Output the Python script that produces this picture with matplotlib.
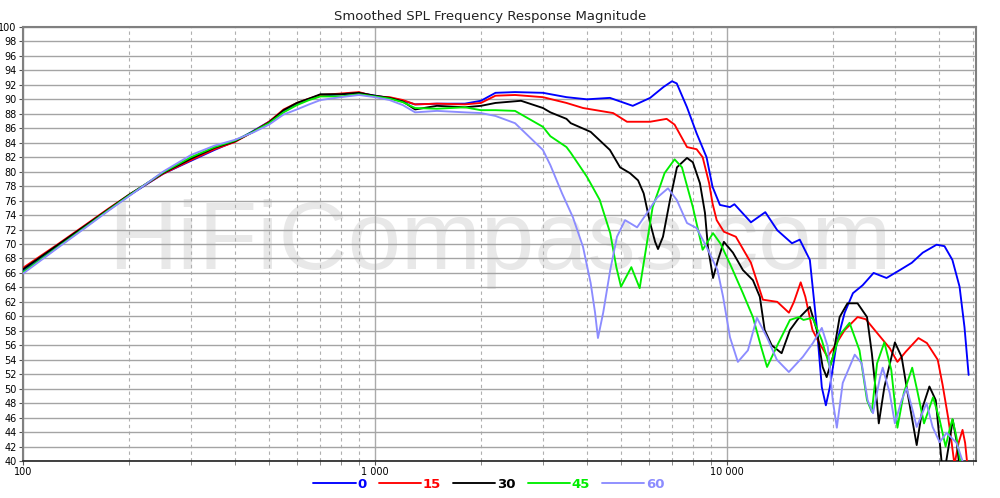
import numpy as np
import matplotlib.pyplot as plt
import matplotlib.ticker as mticker

# frequency points (Hz) shared by all angles below 2 kHz
f_low = [100, 125, 150, 175, 200, 250, 300, 350, 400, 450, 500, 550, 600, 650,
         700, 800, 900, 1000, 1100, 1200, 1300, 1500, 1800]

spl0_low = [66.3, 69.6, 72.4, 74.7, 76.7, 79.7, 81.5, 83.0, 84.2, 85.6, 86.9, 88.4, 89.4, 90.0,
            90.5, 90.7, 90.9, 90.5, 90.2, 89.8, 89.3, 89.4, 89.4]
spl15_low = [66.7, 69.9, 72.6, 74.9, 76.8, 79.7, 81.6, 83.1, 84.1, 85.5, 86.9, 88.6, 89.5, 90.1,
             90.6, 90.8, 91.0, 90.4, 90.3, 89.9, 89.3, 89.4, 89.3]
spl30_low = [66.5, 69.8, 72.5, 74.8, 76.8, 79.8, 81.8, 83.3, 84.2, 85.5, 86.8, 88.5, 89.5, 90.1,
             90.7, 90.7, 90.9, 90.5, 90.2, 89.7, 88.6, 89.1, 88.9]
spl45_low = [66.1, 69.5, 72.3, 74.7, 76.7, 79.9, 82.0, 83.4, 84.3, 85.5, 86.7, 88.2, 89.2, 89.9,
             90.4, 90.4, 90.7, 90.4, 90.1, 89.6, 88.8, 88.7, 88.9]
spl60_low = [65.9, 69.4, 72.2, 74.6, 76.6, 80.0, 82.3, 83.6, 84.4, 85.4, 86.5, 87.9, 88.6, 89.3,
             89.9, 90.3, 90.6, 90.3, 89.9, 89.2, 88.2, 88.4, 88.2]

# 0 deg, above 2 kHz
f0_high = [2000, 2200, 2500, 3000, 3500, 4000, 4650, 5400, 6050, 6600, 6980, 7200, 7700, 8200,
           8750, 9100, 9550, 10200, 10500, 11700, 12850, 13900, 15300, 16100, 17200, 18000,
           18600, 19100, 19600, 20500, 21600, 22800, 24300, 26100, 28400, 31000, 33500, 36000,
           39400, 41500, 43700, 45800, 47300, 48600]
spl0_high = [89.8, 90.9, 91.0, 90.9, 90.3, 90.0, 90.2, 89.1, 90.2, 91.7, 92.5, 92.2, 88.9, 85.3,
             82.0, 77.9, 75.4, 75.1, 75.5, 73.0, 74.4, 71.9, 70.1, 70.6, 67.8, 58.5,
             50.2, 47.7, 50.2, 56.3, 60.5, 63.2, 64.3, 66.0, 65.3, 66.4, 67.4, 68.8,
             69.9, 69.7, 67.8, 64.1, 58.5, 51.9]

# 15 deg
f15_high = [2000, 2200, 2500, 3000, 3500, 3900, 4750, 5200, 6050, 6740, 7100, 7700, 8200, 8530,
            8900, 9100, 9350, 9800, 10600, 11700, 12650, 13900, 15000, 15500, 16200, 16700,
            17500, 18300, 19300, 20200, 21600, 23500, 24800, 26600, 29000, 30500, 32200, 35000,
            37000, 39700, 41000, 42500, 43500, 44300, 45500, 46700, 47500, 48300]
spl15_high = [89.5, 90.5, 90.6, 90.3, 89.5, 88.8, 88.1, 86.9, 86.9, 87.3, 86.5, 83.4, 83.1, 82.0,
              78.4, 75.6, 73.3, 71.7, 71.0, 67.4, 62.3, 62.0, 60.5, 62.0, 64.7, 62.7,
              58.1, 56.3, 54.4, 55.8, 58.1, 59.9, 59.6, 57.8, 55.6, 53.7, 55.1, 57.0,
              56.3, 54.0, 50.5, 46.0, 42.5, 39.5, 42.5, 44.3, 42.5, 39.0]

# 30 deg
f30_high = [2000, 2200, 2600, 3000, 3150, 3500, 3600, 4100, 4650, 4970, 5300, 5590, 5800, 6050,
            6250, 6370, 6580, 6890, 7210, 7700, 8000, 8380, 8660, 8830, 9130, 9430, 9800,
            10400, 11100, 11850, 12400, 12800, 13400, 14300, 15100, 15900, 17200, 18000, 18700,
            19200, 20000, 20900, 22000, 23500, 25000, 25800, 26650, 27000, 28000, 30000, 31350,
            32600, 34600, 36000, 37600, 39200, 40700, 41500, 42800, 43800, 45000, 45800]
spl30_high = [89.1, 89.5, 89.8, 88.8, 88.2, 87.3, 86.7, 85.5, 83.0, 80.6, 79.8, 78.8, 77.0, 72.9,
              70.3, 69.3, 71.0, 76.1, 80.6, 81.9, 81.3, 78.4, 74.3, 69.6, 65.3, 67.8, 70.3,
              68.8, 66.4, 65.0, 62.7, 58.1, 56.0, 54.9, 58.1, 59.6, 61.3, 58.1, 53.0,
              51.6, 54.4, 59.9, 61.8, 61.8, 59.9, 54.9, 48.4, 45.2, 50.2, 56.4, 54.4,
              49.4, 42.2, 47.5, 50.3, 48.4, 40.0, 38.5, 42.5, 45.7, 42.5, 39.0]

# 45 deg
f45_high = [2000, 2200, 2500, 3000, 3150, 3500, 3600, 4000, 4350, 4660, 4850, 5000, 5350, 5650,
            5900, 6150, 6500, 6650, 7100, 7450, 8000, 8530, 9130, 9600, 10300, 11100, 11850,
            12500, 13000, 14000, 15100, 16000, 16500, 17500, 18600, 19600, 20900, 22300, 23800,
            25000, 25800, 26700, 28000, 29300, 30500, 31800, 33600, 34700, 36300, 38500, 40200,
            41800, 43000, 43700, 44800, 46000, 47000]
spl45_high = [88.5, 88.5, 88.4, 86.2, 84.9, 83.4, 82.6, 79.3, 76.1, 71.5, 66.8, 64.1, 66.8, 63.9,
              69.6, 75.1, 78.4, 79.8, 81.7, 80.6, 75.1, 69.2, 71.5, 70.0, 66.8, 63.2, 59.9,
              55.8, 53.0, 56.3, 59.5, 59.9, 59.5, 59.8, 56.7, 53.0, 57.4, 59.1, 55.3,
              48.4, 46.8, 53.5, 56.4, 52.6, 44.6, 49.4, 52.9, 49.8, 45.2, 48.8, 45.7,
              42.0, 44.5, 45.8, 43.5, 40.0, 38.5]

# 60 deg
f60_high = [2000, 2200, 2500, 3000, 3150, 3400, 3650, 3900, 4100, 4220, 4300, 4450, 4660, 4870,
            5135, 5555, 5930, 6330, 6800, 7200, 7700, 8200, 8750, 9400, 9750, 10200, 10740,
            11470, 12165, 12990, 13860, 14990, 16430, 17540, 18600, 19340, 19980, 20520, 21330,
            23070, 24150, 25100, 26000, 27200, 27700, 29000, 30000, 31350, 32400, 33700, 34600,
            36900, 38400, 40200, 42100, 44900, 46700]
spl60_high = [88.1, 87.7, 86.7, 83.0, 80.9, 77.0, 73.7, 69.6, 64.6, 60.5, 57.0, 60.5, 66.4, 71.0,
              73.3, 72.3, 74.3, 76.4, 77.7, 76.1, 72.9, 72.2, 69.6, 66.4, 62.7, 57.1, 53.7,
              55.3, 59.8, 57.1, 54.0, 52.3, 54.4, 56.3, 58.4, 55.8, 48.4, 44.6, 50.8,
              54.7, 53.5, 48.4, 46.6, 51.5, 52.9, 49.4, 45.2, 48.4, 50.1, 47.0, 44.7,
              48.0, 44.7, 42.6, 43.9, 42.5, 40.0]

labels = ['0', '15', '30', '45', '60']
colors = ['#0000ff', '#ff0000', '#000000', '#00ee00', '#8c8cff']
freqs = [f_low + f0_high, f_low + f15_high, f_low + f30_high, f_low + f45_high, f_low + f60_high]
spls = [spl0_low + spl0_high, spl15_low + spl15_high, spl30_low + spl30_high,
        spl45_low + spl45_high, spl60_low + spl60_high]

fig = plt.figure(figsize=(10, 4.98), dpi=100)
ax = fig.add_axes([0.023, 0.0743, 0.953, 0.8715])

ax.text(0.5, 0.5, 'HiFiCompass.com', transform=ax.transAxes, ha='center', va='center',
        fontsize=69, color='#e8e8e8', family='Liberation Sans', zorder=0)

lines = []
for f, s, c, lab in zip(freqs, spls, colors, labels):
    ln, = ax.plot(f, s, color=c, lw=1.35, label=lab, zorder=3,
                  solid_joinstyle='round', solid_capstyle='round')
    lines.append(ln)

ax.set_xscale('log')
ax.set_xlim(100, 51000)
ax.set_ylim(40, 100)
ax.set_yticks(np.arange(40, 101, 2))
ax.xaxis.set_major_locator(mticker.FixedLocator([100, 1000, 10000]))
ax.xaxis.set_major_formatter(mticker.FuncFormatter(lambda v, p: '{:,}'.format(int(v)).replace(',', ' ')))
ax.xaxis.set_minor_locator(mticker.LogLocator(base=10, subs=np.arange(2, 10)))
ax.xaxis.set_minor_formatter(mticker.NullFormatter())
ax.tick_params(axis='both', labelsize=7, length=3, width=0.8, color='#555555', pad=1.5)
ax.tick_params(axis='x', which='minor', length=3, width=0.6, color='#777777')

ax.grid(True, axis='y', color='#a4a4a4', lw=1.0, zorder=1)
ax.grid(True, axis='x', which='major', color='#aaaaaa', lw=1.0, zorder=1)
ax.grid(True, axis='x', which='minor', color='#b0b0b0', lw=0.8, ls=(0, (3, 3)), zorder=1)
ax.set_axisbelow(True)

for side in ['top', 'right', 'left']:
    ax.spines[side].set_color('#808080')
    ax.spines[side].set_linewidth(1.5)
ax.spines['bottom'].set_color('#202020')
ax.spines['bottom'].set_linewidth(1.2)

fig.text(0.49, 0.967, 'Smoothed SPL Frequency Response Magnitude', ha='center', va='center',
         fontsize=9.5, color='#222222')

leg = fig.legend(handles=lines, loc='center', bbox_to_anchor=(0.489, 0.028), ncol=5,
                 frameon=False, fontsize=9.5, handlelength=3.2, handletextpad=0.15,
                 columnspacing=0.9, borderpad=0)
for t, c in zip(leg.get_texts(), colors):
    t.set_color(c)
    t.set_fontweight('bold')

fig.savefig('out.png', dpi=100)
